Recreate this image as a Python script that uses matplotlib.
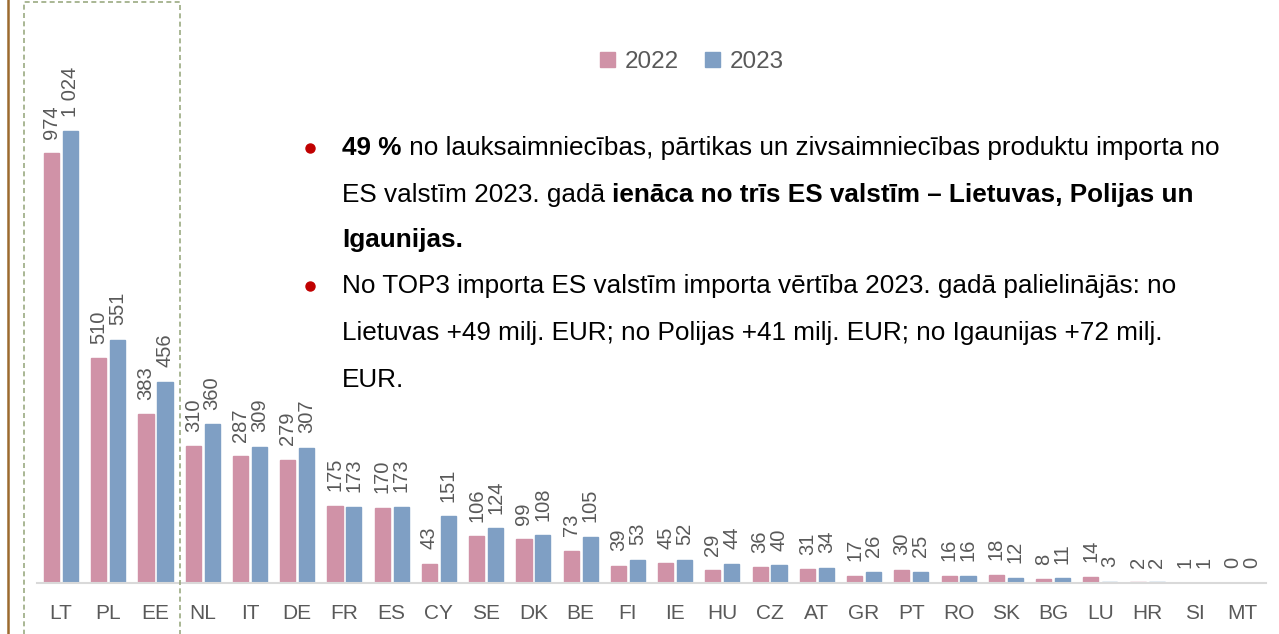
import matplotlib
matplotlib.use("Agg")
import matplotlib.pyplot as plt
from matplotlib.patches import Patch, Rectangle
from matplotlib.lines import Line2D
import numpy as np

# Dati
countries = ["LT", "PL", "EE", "NL", "IT", "DE", "FR", "ES", "CY", "SE", "DK", "BE", "FI",
             "IE", "HU", "CZ", "AT", "GR", "PT", "RO", "SK", "BG", "LU", "HR", "SI", "MT"]
val_2022 = [974, 510, 383, 310, 287, 279, 175, 170, 43, 106, 99, 73, 39,
            45, 29, 36, 31, 17, 30, 16, 18, 8, 14, 2, 1, 0]
val_2023 = [1024, 551, 456, 360, 309, 307, 173, 173, 151, 124, 108, 105, 53,
            52, 44, 40, 34, 26, 25, 16, 12, 11, 3, 2, 1, 0]
years = ["2022", "2023"]

COL_22 = "#D092A7"
COL_23 = "#7F9FC4"
COL_TXT = "#595959"

plt.rcParams["font.family"] = ["Liberation Sans", "DejaVu Sans"]

W, H = 1279, 634
fig = plt.figure(figsize=(W / 100, H / 100), dpi=100)
ax = fig.add_axes([37.4 / W, 51 / H, 1228.2 / W, 583 / H])

x = np.arange(len(countries))
bw = 0.32
# mala tajā pašā krāsā, lai arī nulles stabiņi būtu redzami kā plāna līnija
b1 = ax.bar(x - 0.2, val_2022, bw, color=COL_22, edgecolor=COL_22, linewidth=1.0, label=years[0])
b2 = ax.bar(x + 0.2, val_2023, bw, color=COL_23, edgecolor=COL_23, linewidth=1.0, label=years[1])


def fmt(v):
    return f"{v:,}".replace(",", " ")


for bars, vals in ((b1, val_2022), (b2, val_2023)):
    for b, v in zip(bars, vals):
        ax.annotate(fmt(v), (b.get_x() + b.get_width() / 2, b.get_height()),
                    xytext=(0, 10.5), textcoords="offset points",
                    rotation=90, ha="center", va="bottom",
                    fontsize=14.5, color=COL_TXT)

ax.set_xlim(-0.5, len(countries) - 0.5)
ax.set_ylim(0, 1322)
ax.set_xticks(x)
ax.set_xticklabels(countries, fontsize=15, color=COL_TXT)
ax.tick_params(axis="x", length=0, pad=15)
ax.set_yticks([])
for s in ("top", "right", "left"):
    ax.spines[s].set_visible(False)
ax.spines["bottom"].set_color("#D9D9D9")
ax.spines["bottom"].set_linewidth(1.5)

handles = [Patch(color=COL_22), Patch(color=COL_23)]
fig.legend(handles, years, loc="center", bbox_to_anchor=(692 / W, 1 - 62 / H),
           ncol=2, frameon=False, fontsize=17.5, labelcolor=COL_TXT,
           handlelength=0.6, handleheight=0.6, handletextpad=0.4, columnspacing=1.1)

# Teksts ar aizzimēm
lines = [
    [("49 %", True), (" no lauksaimniecības, pārtikas un zivsaimniecības produktu importa no", False)],
    [("ES valstīm 2023. gadā ", False), ("ienāca no trīs ES valstīm – Lietuvas, Polijas un", True)],
    [("Igaunijas.", True)],
    [("No TOP3 importa ES valstīm importa vērtība 2023. gadā palielinājās: no", False)],
    [("Lietuvas +49 milj. EUR; no Polijas +41 milj. EUR; no Igaunijas +72 milj.", False)],
    [("EUR.", False)],
]
line_y = [148, 195, 240, 286, 333, 380]
bullet_rows = [0, 3]

renderer = fig.canvas.get_renderer()
for row, (segs, yy) in enumerate(zip(lines, line_y)):
    xx = 342
    for txt, bold in segs:
        t = fig.text(xx / W, 1 - yy / H, txt, fontsize=18.8, color="black",
                     fontweight="bold" if bold else "normal", va="center", ha="left")
        xx += t.get_window_extent(renderer).width
    if row in bullet_rows:
        fig.add_artist(Line2D([310 / W], [1 - yy / H], marker="o", markersize=6.5,
                              color="#C00000", transform=fig.transFigure))

# Rāmis ap TOP3 un kreisā līnija
fig.add_artist(Rectangle((24 / W, -0.05), 156 / W, 1.05 - 2 / H, transform=fig.transFigure,
                         fill=False, edgecolor="#9BAA82", linestyle=(0, (3, 2)), linewidth=1.2))
fig.add_artist(Line2D([7.5 / W, 7.5 / W], [0, 1], color="#9C6A2E", linewidth=1.8,
                      transform=fig.transFigure))

fig.savefig("out.png", dpi=100, facecolor="white")
